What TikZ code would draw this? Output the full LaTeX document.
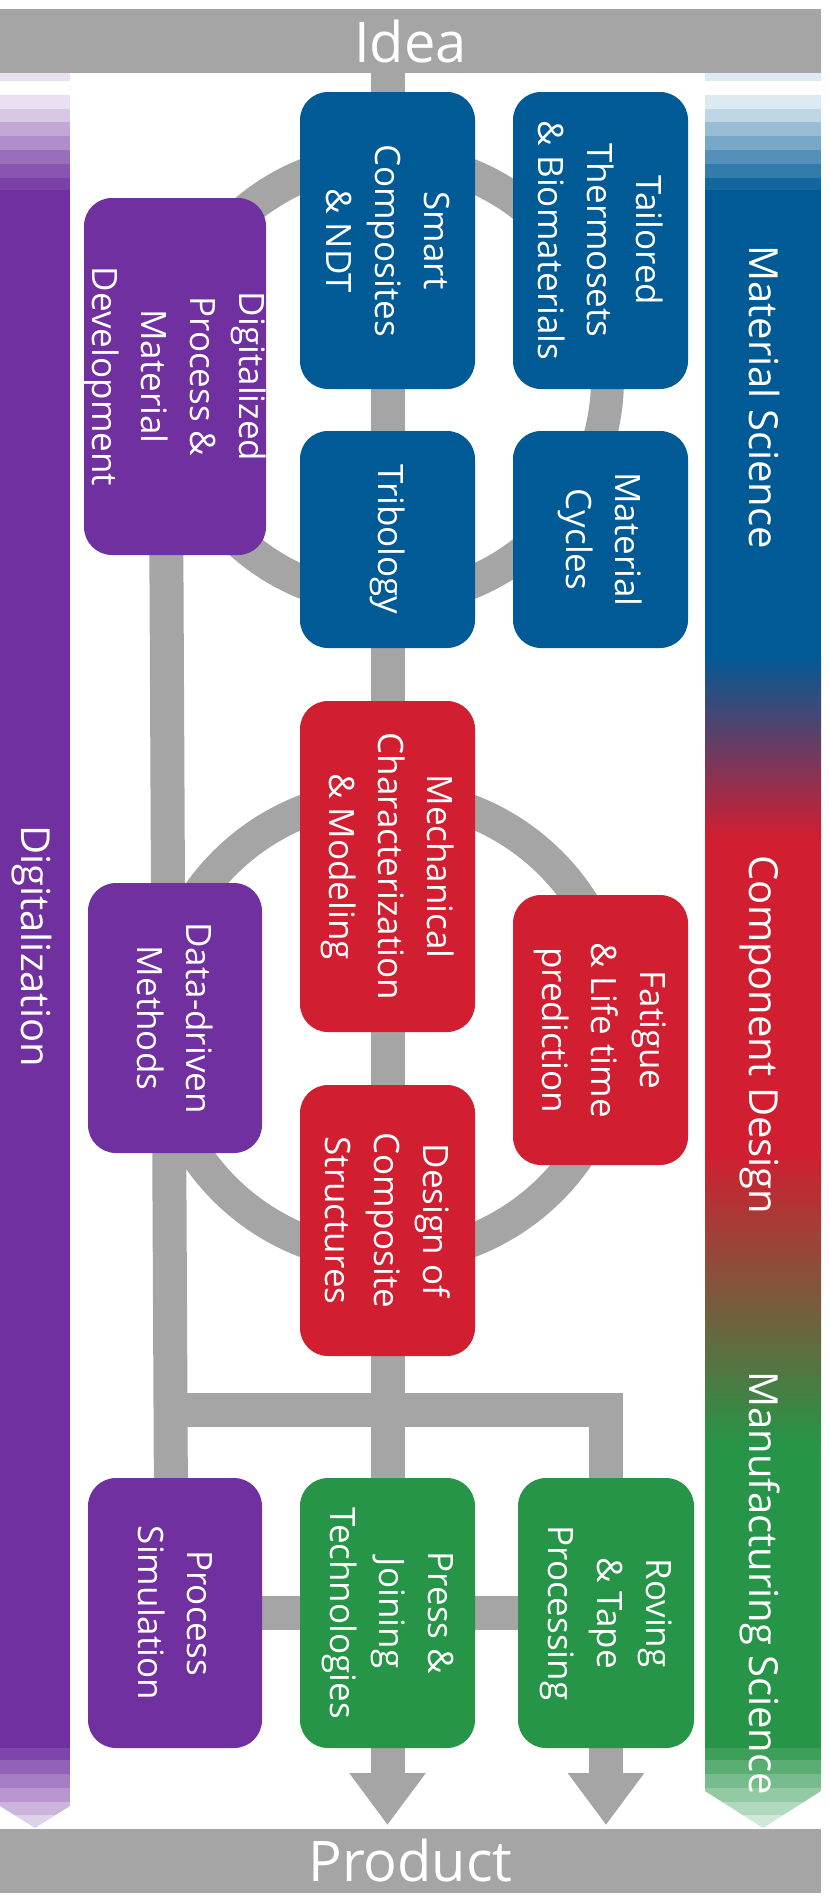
\documentclass[tikz,border=0pt]{standalone}
\usepackage{fontspec}
\setmainfont{Open Sans}
\usetikzlibrary{arrows.meta,calc}
\definecolor{cgray}{RGB}{165,165,165}
\definecolor{cblue}{RGB}{0,90,150}
\definecolor{cred}{RGB}{209,30,48}
\definecolor{cgreen}{RGB}{38,149,72}
\definecolor{cpurple}{RGB}{112,48,160}
\pgfdeclarelayer{bg}
\pgfsetlayers{bg,main}
\begin{document}
\begin{tikzpicture}[x=1pt,y=-1pt,
  box/.style={rounded corners=28pt, inner sep=0pt, text=white, align=center, rotate=-90,
    font=\fontsize{35}{49}\selectfont, minimum height=175pt},
  conn/.style={draw=cgray, line width=34pt},
  ring/.style={draw=cgray, line width=33pt},
  sidelabel/.style={text=white, rotate=-90, anchor=base, inner sep=0pt, font=\fontsize{40}{48}\selectfont},
  bar/.style={fill=cgray, minimum width=821pt, minimum height=64pt, inner sep=0pt, text=white,
    font=\fontsize{56}{60}\selectfont}]
\useasboundingbox (0,0) rectangle (828,1898);

% top and bottom bars
\node[bar] (idea) at (410.5,41) {Idea};
\node[bar] (prod) at (410.5,1860.5) {Product};
\coordinate (tipc) at (0,1825);

% left bar (Digitalization)
\fill[cpurple!15] (0,73) rectangle (70,81);
\foreach \ya/\m in {95/15,109/27,122/42,136/55,150/70,164/82,178/92}
  \fill[cpurple!\m] (0,\ya) rectangle (70,\ya+14);
\fill[cpurple] (0,190) rectangle (70,1748);
\begin{scope}
  \clip (0,1748) -- (70,1748) -- (70,1806) -- (35,1828) -- (0,1806) -- cycle;
  \foreach \ya/\yb/\m in {1748/1760/90,1760/1774/76,1774/1788/63,1788/1802/50,1802/1815/36,1815/1830/22}
    \fill[cpurple!\m] (0,\ya) rectangle (70,\yb);
\end{scope}
\node[sidelabel] (digi) at (21,946) {Digitalization};

% right bar
\fill[cblue!13] (705,73) rectangle (821,81);
\foreach \ya/\m in {95/13,109/25,122/40,136/53,150/67,164/80,178/92}
  \fill[cblue!\m] (705,\ya) rectangle (821,\ya+14);
\fill[cblue] (705,190) rectangle (821,655);
\shade[top color=cblue, bottom color=cred] (705,655) rectangle (821,838);
\fill[cred] (705,838) rectangle (821,1151);
\shade[top color=cred, bottom color=cgreen] (705,1151) rectangle (821,1445);
\fill[cgreen] (705,1445) rectangle (821,1748);
\begin{scope}
  \clip (705,1748) -- (821,1748) -- (821,1791) -- (763,1828) -- (705,1791) -- cycle;
  \foreach \ya/\yb/\m in {1748/1760/90,1760/1774/76,1774/1788/63,1788/1802/50,1802/1815/36,1815/1830/22}
    \fill[cgreen!\m] (705,\ya) rectangle (821,\yb);
\end{scope}
\node[sidelabel] (matsci) at (749,397) {Material Science};
\node[sidelabel] (compdes) at (749,1035) {Component Design};
\node[sidelabel] (manusci) at (749,1583) {Manufacturing Science};

% boxes
\node[box, fill=cblue, minimum width=297pt] (smart) at (387.5,240.5) {Smart\\Composites\\\& NDT};
\node[box, fill=cblue, minimum width=297pt] (tail) at (600.5,240.5) {Tailored\\Thermosets\\\& Biomaterials};
\node[box, fill=cpurple, minimum width=357pt, minimum height=174pt] (dig) at (175,376.5) {Digitalized\\Process \&\\Material\\Development};
\node[box, fill=cblue, minimum width=217pt] (trib) at (387.5,539.5) {Tribology};
\node[box, fill=cblue, minimum width=217pt] (cyc) at (600.5,539.5) {Material\\Cycles};
\node[box, fill=cred, minimum width=331pt] (mech) at (387.5,866.5) {Mechanical\\Characterization\\\& Modeling};
\node[box, fill=cred, minimum width=270pt] (fat) at (600.5,1030) {Fatigue\\\& Life time\\prediction};
\node[box, fill=cpurple, minimum width=270pt, minimum height=174pt] (data) at (175,1018) {Data-driven\\Methods};
\node[box, fill=cred, minimum width=271pt] (design) at (387.5,1220.5) {Design of\\Composite\\Structures};
\node[box, fill=cpurple, minimum width=270pt, minimum height=174pt] (proc) at (175,1613) {Process\\Simulation};
\node[box, fill=cgreen, minimum width=270pt] (press) at (387.5,1613) {Press \&\\Joining\\Technologies};
\node[box, fill=cgreen, minimum width=270pt, minimum height=176pt] (rov) at (606,1613) {Roving\\\& Tape\\Processing};

% connectors behind
\begin{pgfonlayer}{bg}
  \draw[ring] (387.5,379) circle[radius=220pt];
  \draw[ring] (387.5,1026) circle[radius=230.5pt];
  \draw[conn] (smart.center |- idea.center) -- (smart.center);
  \draw[conn] (smart.center) -- (trib.center) -- (mech.center) -- (design.center) -- (press.center);
  \draw[conn] ($(dig.center)+(-9.5,0)$) -- ($(proc.center)+(-3.5,0)$);
  \coordinate (hb) at (171,1410);
  \draw[conn, line join=miter] (hb) -- (hb -| rov.center) -- (rov.center);
  \draw[conn] (proc.center) -- (rov.center);
  \draw[conn, -{Triangle[width=73pt,length=52pt]}] (press.center) -- (press.center |- tipc);
  \draw[conn, -{Triangle[width=73pt,length=52pt]}] (rov.center) -- (rov.center |- tipc);
\end{pgfonlayer}
\end{tikzpicture}
\end{document}
